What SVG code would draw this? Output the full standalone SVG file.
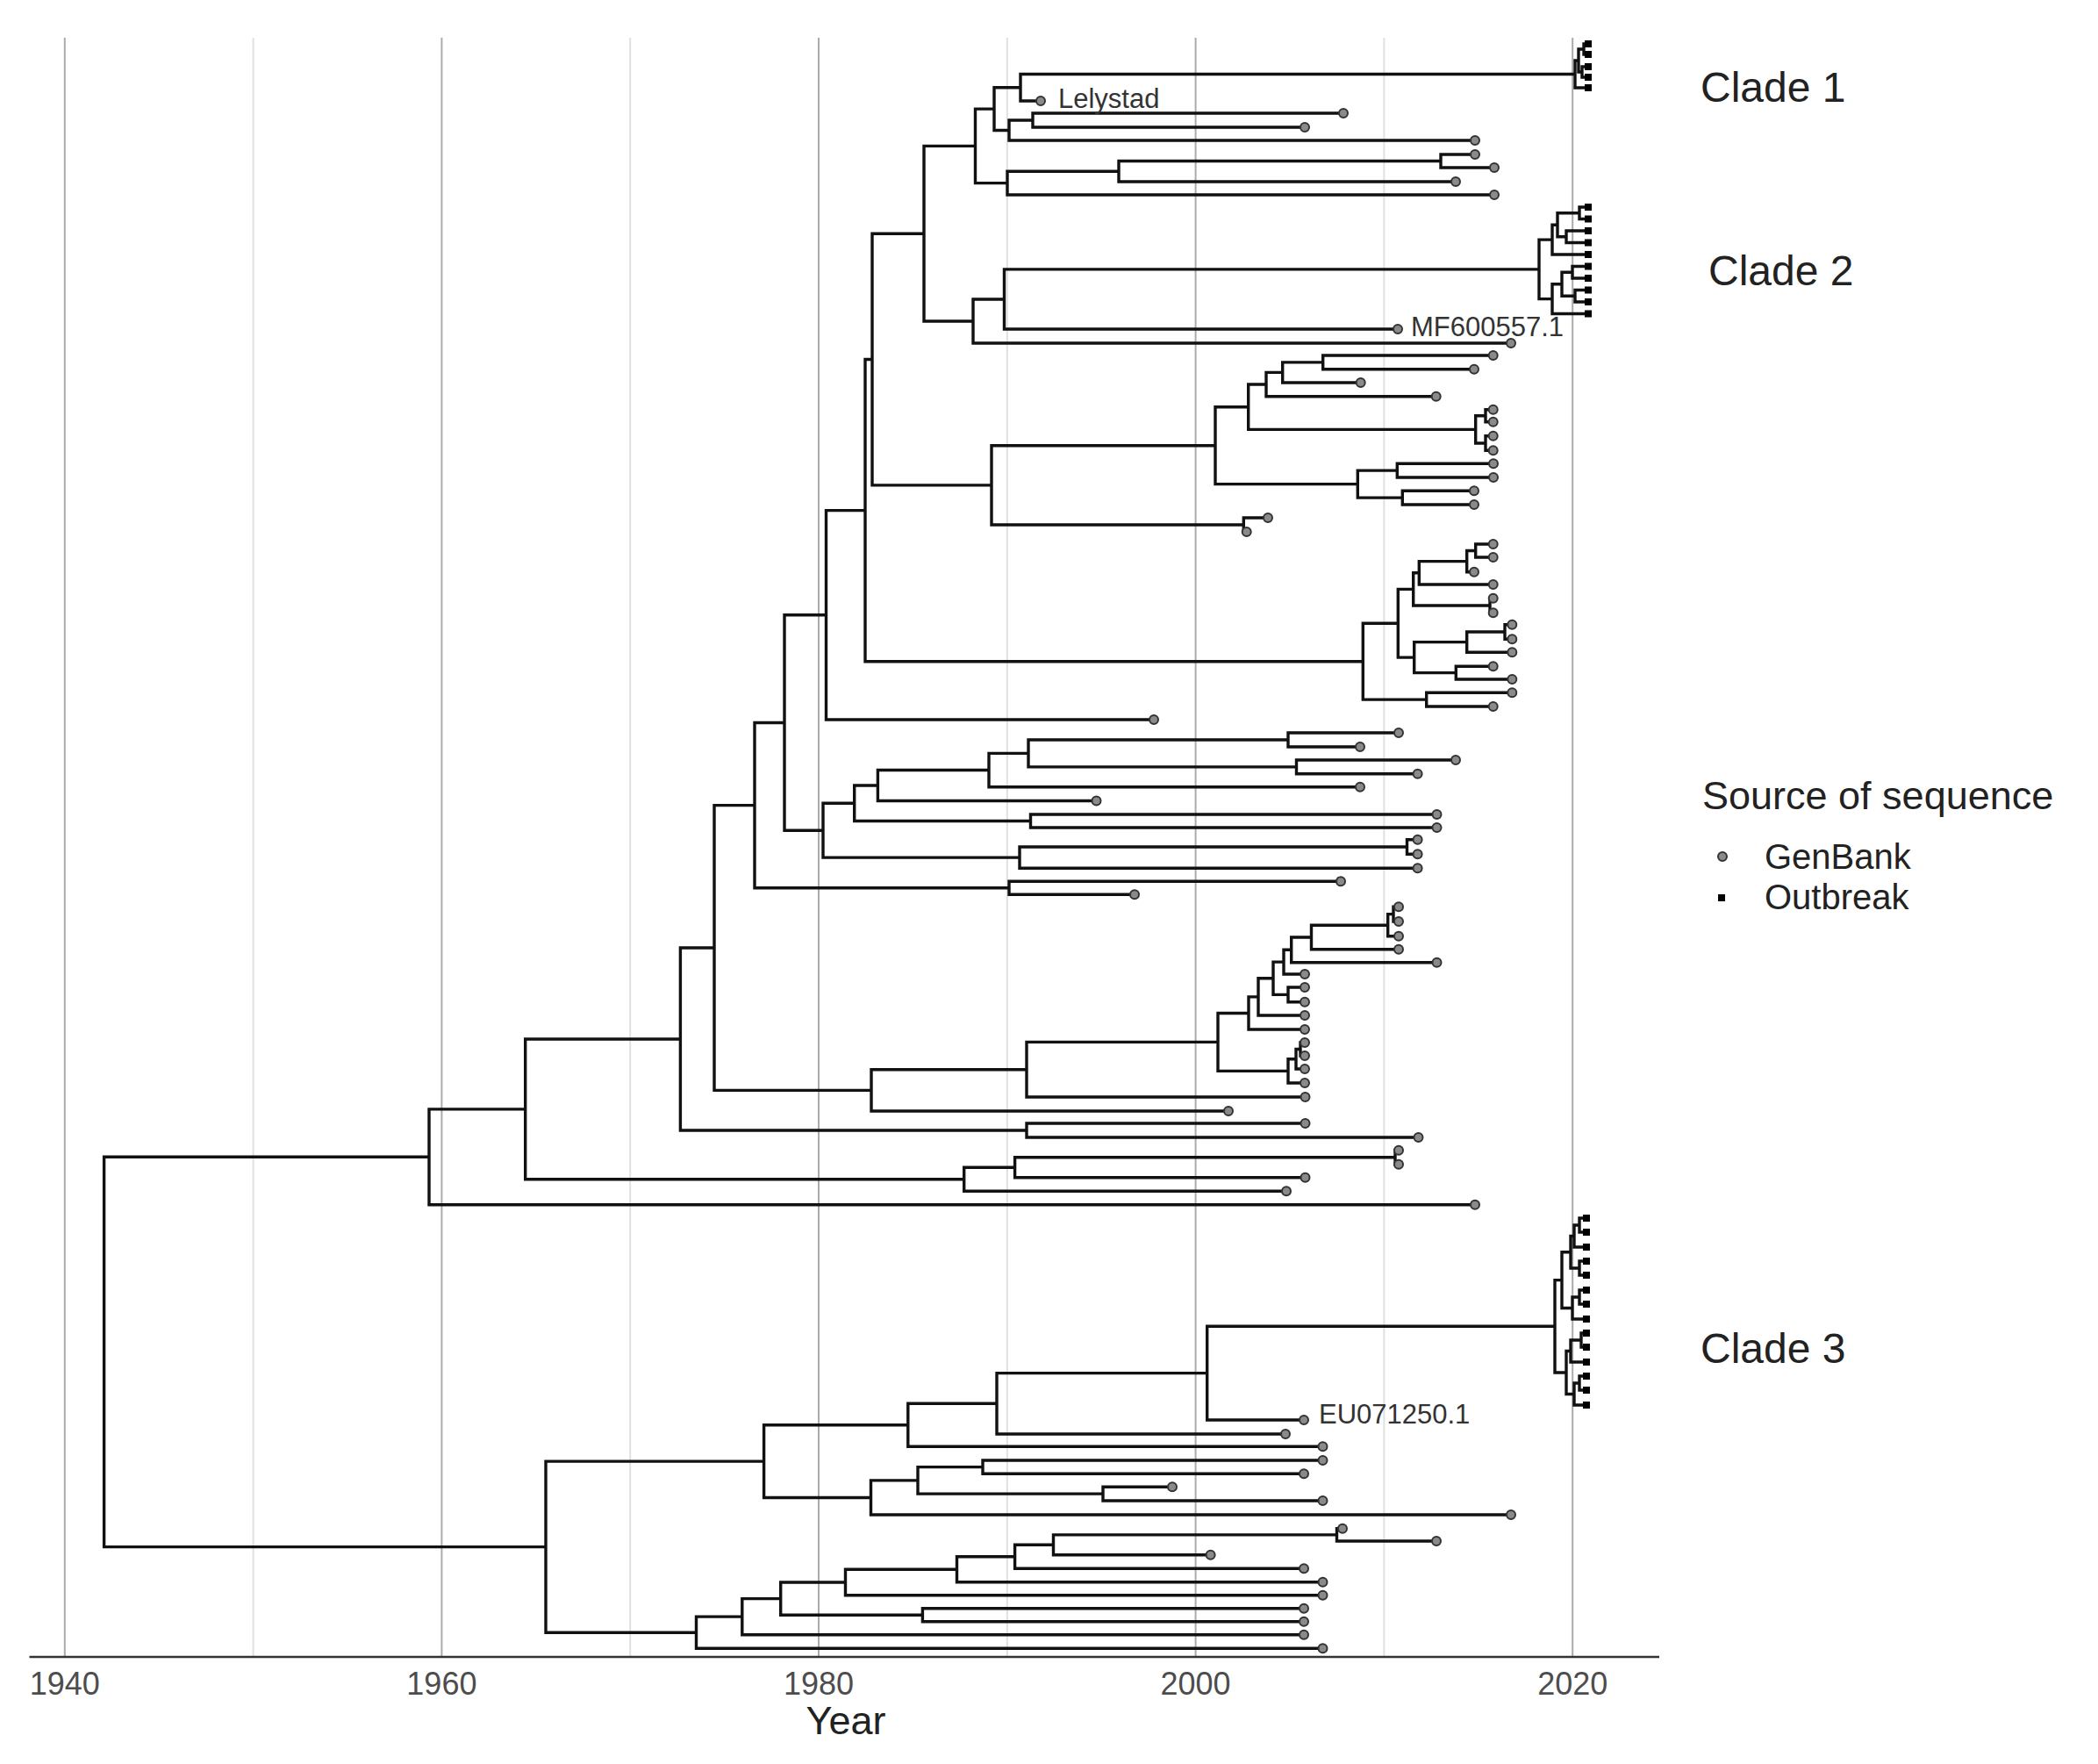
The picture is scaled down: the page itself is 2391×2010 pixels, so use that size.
<svg xmlns="http://www.w3.org/2000/svg" xmlns:xlink="http://www.w3.org/1999/xlink" width="2391" height="2010" viewBox="0 0 2391 2010">
<style>
.bg{fill:#fff}
.gmaj{stroke:#ababab;stroke-width:2}
.gmin{stroke:#e0e0e0;stroke-width:2}
.axis{stroke:#333;stroke-width:2.5}
.br{fill:none;stroke:#111;stroke-width:3.4;stroke-linejoin:miter;stroke-linecap:butt}
.gb{fill:#8a8a8a;stroke:#333;stroke-width:2}
.ob{fill:#000}
.tick{font-family:"Liberation Sans",Arial,sans-serif;font-size:36px;fill:#4d4d4d;text-anchor:middle}
.title{font-family:"Liberation Sans",Arial,sans-serif;font-size:45px;fill:#222;text-anchor:middle}
.tiplab{font-family:"Liberation Sans",Arial,sans-serif;font-size:31px;fill:#333}
.clade{font-family:"Liberation Sans",Arial,sans-serif;font-size:48px;fill:#222}
.legt{font-family:"Liberation Sans",Arial,sans-serif;font-size:45px;fill:#222}
.legl{font-family:"Liberation Sans",Arial,sans-serif;font-size:40px;fill:#222}
</style>
<defs>
<circle id="c" class="gb" r="5"/>
<rect id="s" class="ob" x="-4" y="-4" width="8" height="8"/>
</defs>
<rect class="bg" x="0" y="0" width="2391" height="2010"/>
<g id="grid">
<line class="gmin" x1="288.6" y1="43" x2="288.6" y2="1888"/>
<line class="gmin" x1="718.2" y1="43" x2="718.2" y2="1888"/>
<line class="gmin" x1="1147.8" y1="43" x2="1147.8" y2="1888"/>
<line class="gmin" x1="1577.4" y1="43" x2="1577.4" y2="1888"/>
<line class="gmaj" x1="73.8" y1="43" x2="73.8" y2="1888"/>
<line class="gmaj" x1="503.4" y1="43" x2="503.4" y2="1888"/>
<line class="gmaj" x1="933" y1="43" x2="933" y2="1888"/>
<line class="gmaj" x1="1362.6" y1="43" x2="1362.6" y2="1888"/>
<line class="gmaj" x1="1792.2" y1="43" x2="1792.2" y2="1888"/>
</g>
<g id="axis">
<line class="axis" x1="33.5" y1="1888" x2="1891" y2="1888"/>
<text class="tick" x="73.8" y="1931">1940</text>
<text class="tick" x="503.4" y="1931">1960</text>
<text class="tick" x="933" y="1931">1980</text>
<text class="tick" x="1362.6" y="1931">2000</text>
<text class="tick" x="1792.2" y="1931">2020</text>
<text class="title" x="964" y="1976">Year</text>
</g>
<g id="connectors">
<path class="br" d="M1810 50H1805V62H1810M1810 76H1803V88H1810M1805 56H1799V82H1803M1799 69H1795V100H1810M1795 84.5H1163V115H1186M1531 129H1177V145H1487M1177 137H1150V160H1681M1163 99.75H1133V148.5H1150M1681 176H1642V191H1703M1642 183.5H1275V207H1659M1275 195.25H1148V222H1703M1133 124.1H1111.5V208.6H1148"/>
<path class="br" d="M1810 236H1800V249.5H1810M1810 263H1785V276.5H1810M1800 242.75H1775V269.75H1785M1775 256.25H1769V290H1810M1810 303.5H1792V317H1810M1810 330.5H1795V344H1810M1792 310.25H1780V337.25H1795M1780 323.75H1769V357.5H1810M1769 273.1H1754V340.6H1769M1754 306.9H1144.5V375H1593M1144.5 341H1109V391H1722M1111.5 166.4H1053V366H1109"/>
<path class="br" d="M1701.7 405H1507.7V420.7H1680M1507.7 412.85H1461.7V436H1550.7M1461.7 424.4H1443V451.7H1636.7M1701.7 466.7H1693V480.7H1701.7M1701.7 496.7H1693V513.3H1701.7M1693 473.7H1681.7V505H1693M1443 438.05H1422.7V489.35H1681.7M1702 528.3H1592.3V544H1702M1680 559.3H1598.3V575H1680M1592.3 536.15H1547.3V567.15H1598.3M1422.7 463.7H1385V551.65H1547.3M1445 590H1417.3V606H1420.7M1385 507.7H1130V598H1417.3M1053 266.2H994V552.85H1130"/>
<path class="br" d="M1701.7 620H1681.7V635H1701.7M1681.7 627.5H1671.7V651.7H1680M1671.7 639.6H1617.3V666H1701.7M1701.7 681.7H1698V698.3H1701.7M1617.3 652.8H1610.7V690H1698M1723.3 711.7H1715V728.3H1723.3M1715 720H1671.7V743.3H1723.3M1701.7 759.3H1659.3V774H1723.3M1671.7 731.65H1611.7V766.65H1659.3M1610.7 671.4H1593.3V749.15H1611.7M1723.3 789.3H1625.7V805H1701.7M1593.3 710.3H1553.3V797.15H1625.7M994 409.5H986V753.7H1553.3M986 581.6H941.5V820H1315"/>
<path class="br" d="M1594 835H1468V851H1550M1659 866H1477.5V881.7H1615.6M1468 843H1172V873.85H1477.5M1172 858.4H1127V896.7H1550M1127 877.55H1000.4V912.5H1249.5M1637.5 928H1174.5V943H1637.5M1000.4 895H973.7V935.5H1174.5M1615.6 956.7H1603.5V973.3H1615.6M1603.5 965H1162V989.3H1615.6M973.7 915.25H938V977.15H1162M941.5 700.8H894V946.2H938M1528 1004.3H1150V1019.3H1293M894 823.5H860V1011.8H1150"/>
<path class="br" d="M1594 1033.3H1588V1050H1594M1588 1041.65H1581.7V1066.7H1594M1581.7 1054.2H1494.5V1081.7H1594M1494.5 1067.95H1471.7V1096.7H1637.5M1471.7 1082.3H1463V1110H1487M1487 1125H1468V1141.7H1487M1463 1096.15H1451V1133.35H1468M1451 1114.75H1434V1157H1487M1434 1135.9H1423V1173H1487M1487 1188H1482V1203H1487M1482 1195.5H1477V1218H1487M1477 1206.75H1468V1234H1487M1423 1154.45H1388V1220.4H1468M1388 1187.4H1170V1250H1487.5M1170 1218.7H993V1266H1400M860 917.65H814V1242.35H993M1487.5 1280H1170V1296H1616.5M814 1080H775.4V1288H1170"/>
<path class="br" d="M1594 1310.7H1590V1326.7H1594M1590 1318.7H1156.6V1341.7H1487.5M1156.6 1330.2H1098.7V1357.3H1466M775.4 1184H598.7V1343.75H1098.7M598.7 1263.9H489V1372.7H1681"/>
<path class="br" d="M1808 1388H1800V1404H1808M1800 1396H1794V1421H1808M1808 1437H1800V1453H1808M1794 1408.5H1790V1445H1800M1808 1470H1800V1486H1808M1800 1478H1792V1503H1808M1790 1426.75H1780V1490.5H1792M1808 1519H1802V1535H1808M1802 1527H1790V1552H1808M1808 1568H1800V1584H1808M1800 1576H1794V1601H1808M1790 1539.5H1785V1588.5H1794M1780 1458.6H1772V1564H1785M1772 1511.3H1375.7V1618H1486M1375.7 1564.65H1136V1634H1465M1136 1599.3H1034.8V1648.3H1507.5M1507.5 1664H1120V1679.3H1486M1336 1694.3H1257V1710H1507.5M1120 1671.65H1046V1702.15H1257M1046 1686.9H992.5V1726H1722M1034.8 1623.8H870.6V1706.45H992.5"/>
<path class="br" d="M1530 1741.7H1523.5V1756H1637M1523.5 1748.85H1200.5V1771.7H1379.6M1200.5 1760.3H1156.6V1787.3H1486M1156.6 1773.8H1090.5V1802.7H1507.5M1090.5 1788.25H963.5V1817.7H1507.5M1486 1832.7H1051.4V1847.7H1486M963.5 1803H889.7V1840.2H1051.4M889.7 1821.6H845.8V1862.7H1486M845.8 1842.15H793.5V1878.3H1507.5M870.6 1665.1H622V1860.2H793.5M489 1318.3H118.6V1762.65H622"/>
</g>
<g id="tips-genbank">
<use href="#c" x="1186" y="115"/><use href="#c" x="1531" y="129"/><use href="#c" x="1487" y="145"/><use href="#c" x="1681" y="160"/><use href="#c" x="1681" y="176"/><use href="#c" x="1703" y="191"/><use href="#c" x="1659" y="207"/><use href="#c" x="1703" y="222"/><use href="#c" x="1593" y="375"/><use href="#c" x="1722" y="391"/>
<use href="#c" x="1701.7" y="405"/><use href="#c" x="1680" y="420.7"/><use href="#c" x="1550.7" y="436"/><use href="#c" x="1636.7" y="451.7"/><use href="#c" x="1701.7" y="466.7"/><use href="#c" x="1701.7" y="480.7"/><use href="#c" x="1701.7" y="496.7"/><use href="#c" x="1701.7" y="513.3"/><use href="#c" x="1702" y="528.3"/><use href="#c" x="1702" y="544"/><use href="#c" x="1680" y="559.3"/><use href="#c" x="1680" y="575"/><use href="#c" x="1445" y="590"/><use href="#c" x="1420.7" y="606"/>
<use href="#c" x="1701.7" y="620"/><use href="#c" x="1701.7" y="635"/><use href="#c" x="1680" y="651.7"/><use href="#c" x="1701.7" y="666"/><use href="#c" x="1701.7" y="681.7"/><use href="#c" x="1701.7" y="698.3"/><use href="#c" x="1723.3" y="711.7"/><use href="#c" x="1723.3" y="728.3"/><use href="#c" x="1723.3" y="743.3"/><use href="#c" x="1701.7" y="759.3"/><use href="#c" x="1723.3" y="774"/><use href="#c" x="1723.3" y="789.3"/><use href="#c" x="1701.7" y="805"/><use href="#c" x="1315" y="820"/>
<use href="#c" x="1594" y="835"/><use href="#c" x="1550" y="851"/><use href="#c" x="1659" y="866"/><use href="#c" x="1615.6" y="881.7"/><use href="#c" x="1550" y="896.7"/><use href="#c" x="1249.5" y="912.5"/><use href="#c" x="1637.5" y="928"/><use href="#c" x="1637.5" y="943"/><use href="#c" x="1615.6" y="956.7"/><use href="#c" x="1615.6" y="973.3"/><use href="#c" x="1615.6" y="989.3"/><use href="#c" x="1528" y="1004.3"/><use href="#c" x="1293" y="1019.3"/>
<use href="#c" x="1594" y="1033.3"/><use href="#c" x="1594" y="1050"/><use href="#c" x="1594" y="1066.7"/><use href="#c" x="1594" y="1081.7"/><use href="#c" x="1637.5" y="1096.7"/><use href="#c" x="1487" y="1110"/><use href="#c" x="1487" y="1125"/><use href="#c" x="1487" y="1141.7"/><use href="#c" x="1487" y="1157"/><use href="#c" x="1487" y="1173"/><use href="#c" x="1487" y="1188"/><use href="#c" x="1487" y="1203"/><use href="#c" x="1487" y="1218"/><use href="#c" x="1487" y="1234"/><use href="#c" x="1487.5" y="1250"/><use href="#c" x="1400" y="1266"/><use href="#c" x="1487.5" y="1280"/><use href="#c" x="1616.5" y="1296"/><use href="#c" x="1594" y="1310.7"/><use href="#c" x="1594" y="1326.7"/><use href="#c" x="1487.5" y="1341.7"/><use href="#c" x="1466" y="1357.3"/><use href="#c" x="1681" y="1372.7"/>
<use href="#c" x="1486" y="1618"/><use href="#c" x="1465" y="1634"/><use href="#c" x="1507.5" y="1648.3"/><use href="#c" x="1507.5" y="1664"/><use href="#c" x="1486" y="1679.3"/><use href="#c" x="1336" y="1694.3"/><use href="#c" x="1507.5" y="1710"/><use href="#c" x="1722" y="1726"/><use href="#c" x="1530" y="1741.7"/><use href="#c" x="1637" y="1756"/><use href="#c" x="1379.6" y="1771.7"/><use href="#c" x="1486" y="1787.3"/><use href="#c" x="1507.5" y="1802.7"/><use href="#c" x="1507.5" y="1817.7"/><use href="#c" x="1486" y="1832.7"/><use href="#c" x="1486" y="1847.7"/><use href="#c" x="1486" y="1862.7"/><use href="#c" x="1507.5" y="1878.3"/>
</g>
<g id="tips-outbreak">
<use href="#s" x="1810" y="50"/><use href="#s" x="1810" y="62"/><use href="#s" x="1810" y="76"/><use href="#s" x="1810" y="88"/><use href="#s" x="1810" y="100"/>
<use href="#s" x="1810" y="236"/><use href="#s" x="1810" y="249.5"/><use href="#s" x="1810" y="263"/><use href="#s" x="1810" y="276.5"/><use href="#s" x="1810" y="290"/><use href="#s" x="1810" y="303.5"/><use href="#s" x="1810" y="317"/><use href="#s" x="1810" y="330.5"/><use href="#s" x="1810" y="344"/><use href="#s" x="1810" y="357.5"/>
<use href="#s" x="1808" y="1388"/><use href="#s" x="1808" y="1404"/><use href="#s" x="1808" y="1421"/><use href="#s" x="1808" y="1437"/><use href="#s" x="1808" y="1453"/><use href="#s" x="1808" y="1470"/><use href="#s" x="1808" y="1486"/><use href="#s" x="1808" y="1503"/><use href="#s" x="1808" y="1519"/><use href="#s" x="1808" y="1535"/><use href="#s" x="1808" y="1552"/><use href="#s" x="1808" y="1568"/><use href="#s" x="1808" y="1584"/><use href="#s" x="1808" y="1601"/>
</g>
<g id="tip-labels">
<text class="tiplab" x="1206" y="123">Lelystad</text>
<text class="tiplab" x="1608" y="383">MF600557.1</text>
<text class="tiplab" x="1503" y="1622">EU071250.1</text>
</g>
<g id="clade-labels">
<text class="clade" x="1938" y="116">Clade 1</text>
<text class="clade" x="1947" y="325">Clade 2</text>
<text class="clade" x="1938" y="1553">Clade 3</text>
</g>
<g id="legend">
<text class="legt" x="1940" y="922">Source of sequence</text>
<use href="#c" x="1963" y="976"/>
<text class="legl" x="2011" y="990">GenBank</text>
<use href="#s" x="1962" y="1023"/>
<text class="legl" x="2011" y="1036">Outbreak</text>
</g>
</svg>
